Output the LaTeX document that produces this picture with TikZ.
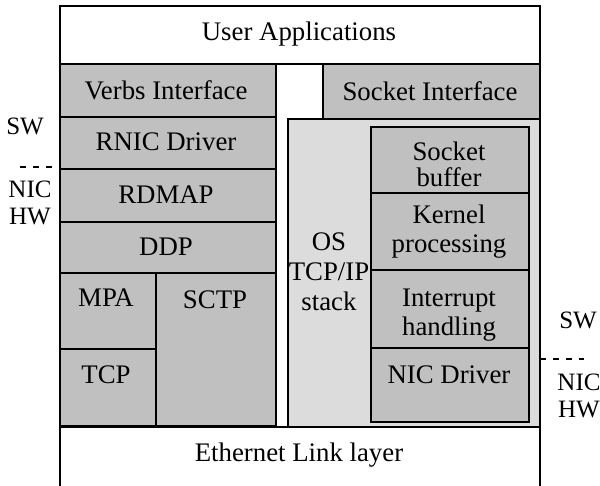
\documentclass[tikz,border=0pt]{standalone}
\usepackage{fontspec}
\setmainfont{Liberation Serif}
\definecolor{boxgray}{HTML}{C0C0C0}
\definecolor{osgray}{HTML}{DCDCDC}
\newcommand{\mainsz}{\fontsize{26.8}{29}\selectfont}
\newcommand{\sidesz}{\fontsize{25}{26.5}\selectfont}
\newcommand{\blkat}[6]{\node[#1, minimum width={(#5-#3)*1pt}, minimum height={(#6-#4)*1pt}] (#2) at (#3,#4) {};}
\tikzset{
  blk/.style={draw=black, line width=2pt, rectangle, inner sep=0pt, anchor=north west},
  dark/.style={blk, fill=boxgray},
  light/.style={blk, fill=osgray},
  whitebox/.style={blk, fill=white},
  txt/.style={font=\mainsz, align=center, inner sep=0pt},
  side/.style={font=\sidesz, inner sep=0pt},
  sep/.style={line width=1.2pt, dash pattern=on 6pt off 7pt},
}
\begin{document}
\begin{tikzpicture}[x=1pt, y=-1pt]
\useasboundingbox (0,0) rectangle (600,485);
% top
\blkat{whitebox}{ua}{59}{5}{539}{63}
% left column
\blkat{dark}{verbs}{59}{63}{275}{116}
\blkat{dark}{rnic}{59}{116}{275}{168}
\blkat{dark}{rdmap}{59}{168}{275}{221}
\blkat{dark}{ddp}{59}{221}{275}{272}
\blkat{dark}{mpa}{59}{272}{155}{348}
\blkat{dark}{tcp}{59}{348}{155}{425}
\blkat{dark}{sctp}{155}{272}{275}{425}
% right column
\blkat{dark}{sock}{322}{63}{539}{118}
\blkat{light}{os}{287}{118}{539}{426}
\blkat{dark}{sbuf}{370}{126}{528}{192}
\blkat{dark}{kern}{370}{192}{528}{269}
\blkat{dark}{intr}{370}{269}{528}{347}
\node[txt] (tintr) at (449,315) {Interrupt\\handling};
\blkat{dark}{nicd}{370}{347}{528}{421}
% bottom
\blkat{whitebox}{eth}{59}{426}{539}{486}
% texts
\node[txt] (tua) at (299,34) {User Applications};
\node[txt] (tverbs) at (166,90) {Verbs Interface};
\node[txt] (trnic) at (166,142) {RNIC Driver};
\node[txt] (trdmap) at (166,195) {RDMAP};
\node[txt] (tddp) at (166,247) {DDP};
\node[txt] (tmpa) at (106,298) {MPA};
\node[txt] (ttcp) at (106,375) {TCP};
\node[txt] (tsctp) at (215,300) {SCTP};
\node[txt] (tsock) at (430,91) {Socket Interface};
\node[txt] (tos) at (329,272) {OS\\[1pt]TCP/IP\\[1pt]stack};
\node[txt] (tsbuf) at (449,164) {Socket\\[-3pt]buffer};
\node[txt] (tkern) at (449,232) {Kernel\\processing};
\node[txt] (tnicd) at (449,375) {NIC Driver};
\node[txt] (teth) at (299,455) {Ethernet Link layer};
% side labels left
\node[side] (lsw) at (25,126) {SW};
\coordinate (ld1) at (20,167);
\coordinate (ld2) at (53,167);
\draw[sep] (ld1) -- (ld2);
\node[side, align=center] (lnic) at (30,203) {NIC\\HW};
% side labels right
\node[side] (rsw) at (578,320) {SW};
\coordinate (rd1) at (540,359);
\coordinate (rd2) at (584,359);
\draw[sep] (rd1) -- (rd2);
\node[side, align=center] (rnic) at (579,396) {NIC\\HW};
\end{tikzpicture}
\end{document}
